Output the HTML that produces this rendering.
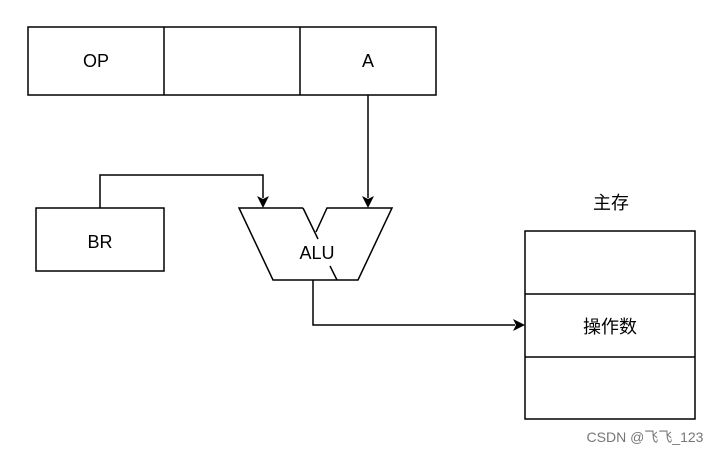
<!DOCTYPE html>
<html><head><style>
body{margin:0;background:#fff;}
text{font-family:"Liberation Sans","Noto Sans CJK SC",sans-serif;}
</style></head><body>
<svg width="724" height="454" viewBox="0 0 724 454" xmlns="http://www.w3.org/2000/svg">
<g fill="none" stroke="#000" stroke-width="1.5">
<rect x="28" y="27" width="408" height="68"/>
<line x1="164" y1="27" x2="164" y2="95"/>
<line x1="300" y1="27" x2="300" y2="95"/>
<rect x="36" y="208" width="128" height="63"/>
<rect x="525" y="231" width="170" height="188"/>
<line x1="525" y1="294" x2="695" y2="294"/>
<line x1="525" y1="357" x2="695" y2="357"/>
<polyline points="303,208 239,208 273,280 358,280 392,208 327,208 316,232"/>
<line x1="303" y1="208" x2="318" y2="239"/>
<line x1="330" y1="266" x2="337" y2="280"/>
<polyline points="100,208 100,175 263,175 263,198"/>
<line x1="368" y1="95" x2="368" y2="198"/>
<polyline points="313,280 313,325 515,325"/>
</g>
<g fill="#000">
<polygon points="257,196 263,208 269,196 263,199"/>
<polygon points="362,196 368,208 374,196 368,199"/>
<polygon points="513,319 525,325 513,331 516,325"/>
</g>
<g font-size="18" text-anchor="middle" fill="#000">
<text x="96" y="67">OP</text>
<text x="368" y="67">A</text>
<text x="100" y="248">BR</text>
<text x="317" y="259">ALU</text>
<text x="611" y="209">主存</text>
<text x="610" y="333">操作数</text>
</g>
<text x="645" y="442" font-size="14" fill="#777" text-anchor="middle">CSDN @飞飞_123</text>
</svg>
</body></html>
